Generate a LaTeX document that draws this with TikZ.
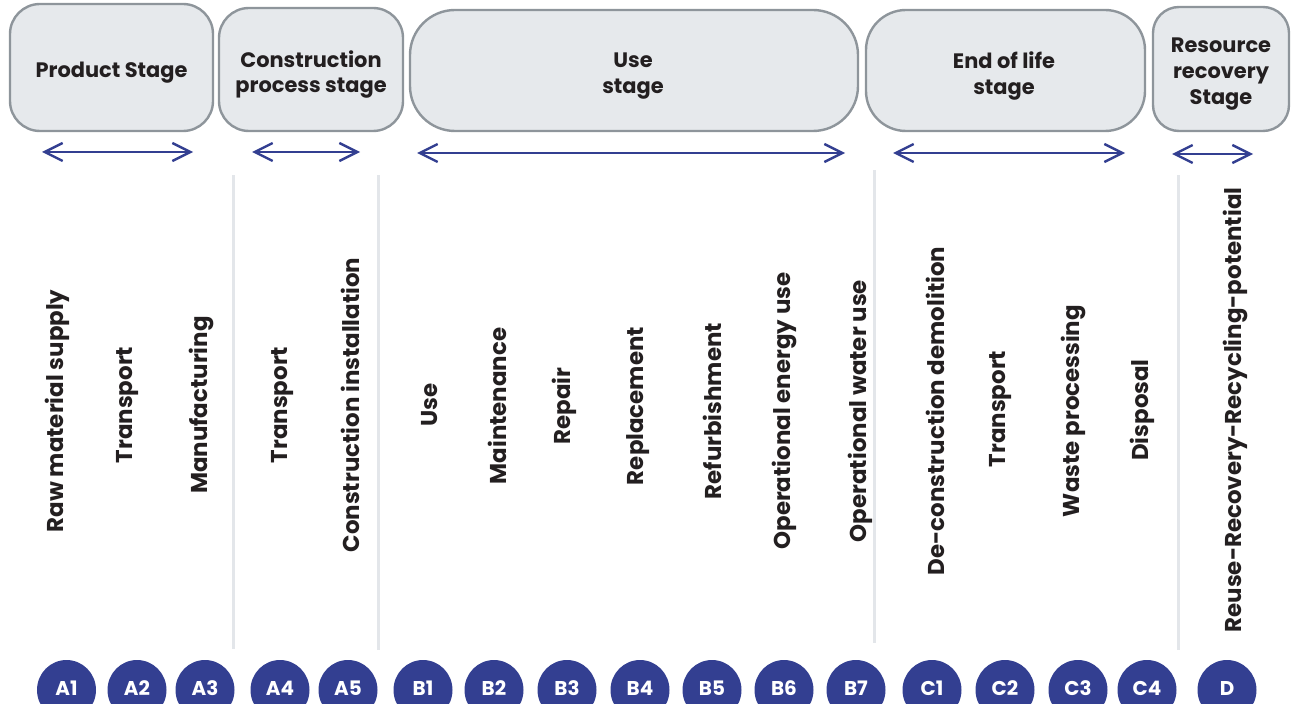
\documentclass[tikz,border=0pt]{standalone}
\usepackage{fontspec}
\setmainfont{Poppins}
\usetikzlibrary{arrows.meta,shapes.geometric}
\definecolor{boxfill}{HTML}{E6E9EC}
\definecolor{boxline}{HTML}{8E959B}
\definecolor{txt}{HTML}{231F20}
\definecolor{navy}{HTML}{333F91}
\definecolor{sep}{HTML}{E3E6EA}
\tikzset{
  stagebox/.style={draw=boxline, line width=2.4bp, fill=boxfill, inner sep=0pt},
  stagetext/.style={align=center, text=txt, font=\fontsize{21}{26}\selectfont\bfseries, inner sep=0pt},
  span/.style={draw=navy, line width=2.6bp, {Straight Barb[length=18bp,width=18bp,line width=2.4bp]}-{Straight Barb[length=18bp,width=18bp,line width=2.4bp]}},
  vlabel/.style={rotate=90, text=txt, font=\fontsize{23}{26}\selectfont\bfseries, inner sep=0pt, anchor=center},
  module/.style={ellipse, fill=navy, text=white, font=\fontsize{20}{22}\selectfont\bfseries,
    minimum width=59bp, minimum height=60bp, inner sep=0pt},
  sepline/.style={draw=sep, line width=3bp}
}
\begin{document}
\begin{tikzpicture}[x=1bp, y=-1bp]
\useasboundingbox (0,0) rectangle (1296,704);
% stage boxes
\node[stagebox, rounded corners=30bp, minimum width=203bp, minimum height=127bp] (ps) at (111.5,67.5) {};
\node[stagebox, rounded corners=30bp, minimum width=184bp, minimum height=123bp] (cs) at (311,69.5) {};
\node[stagebox, rounded corners=45bp, minimum width=448bp, minimum height=121bp] (us) at (634,70.5) {};
\node[stagebox, rounded corners=40bp, minimum width=279bp, minimum height=121bp] (es) at (1005.5,70.5) {};
\node[stagebox, rounded corners=26bp, minimum width=136bp, minimum height=124bp] (rs) at (1221,69) {};
\node[stagetext] (pst) at (111.5,73) {Product Stage};
\node[stagetext] (cst) at (311,74.5) {Construction\\process stage};
\node[stagetext] (ust) at (633,76) {Use\\stage};
\node[stagetext] (est) at (1004,76) {End of life\\stage};
\node[stagetext] (rst) at (1221,74) {Resource\\recovery\\Stage};
% span arrows
\coordinate (psL) at (42,152); \coordinate (psR) at (193,152);
\coordinate (csL) at (252,152); \coordinate (csR) at (360,152);
\coordinate (usL) at (417,153); \coordinate (usR) at (845,153);
\coordinate (esL) at (893,153); \coordinate (esR) at (1125,153);
\coordinate (rsL) at (1172,154); \coordinate (rsR) at (1253,154);
\draw[span] (psL) -- (psR);
\draw[span] (csL) -- (csR);
\draw[span] (usL) -- (usR);
\draw[span] (esL) -- (esR);
\draw[span] (rsL) -- (rsR);
% separators
\draw[sepline] (233,175) -- (233,649);
\draw[sepline] (378,175) -- (378,650);
\draw[sepline] (874,170) -- (874,643);
\draw[sepline] (1178,175) -- (1178,650);
% vertical labels
\node[vlabel] (l1) at (57,411) {Raw material supply};
\node[vlabel] (l2) at (128,405) {Transport};
\node[vlabel] (l3) at (201,405) {Manufacturing};
\node[vlabel] (l4) at (283,405) {Transport};
\node[vlabel] (l5) at (350,405) {Construction installation};
\node[vlabel] (l6) at (430,405) {Use};
\node[vlabel] (l7) at (497,406) {Maintenance};
\node[vlabel] (l8) at (564,406) {Repair};
\node[vlabel] (l9) at (638,406) {Replacement};
\node[vlabel] (l10) at (712,411) {Refurbishment};
\node[vlabel] (l11) at (784,411) {Operational energy use};
\node[vlabel] (l12) at (860,411) {Operational water use};
\node[vlabel] (l13) at (935,411) {De-construction demolition};
\node[vlabel] (l14) at (1000,409) {Transport};
\node[vlabel] (l15) at (1073,411) {Waste processing};
\node[vlabel] (l16) at (1142,410) {Disposal};
\node[vlabel] (l17) at (1235,410) {Reuse-Recovery-Recycling-potential};
% module circles
\foreach \n/\x in {A1/66.5,A2/137,A3/205,A4/280,A5/348,B1/423,B2/494,B3/567,B4/640,B5/712,B6/784,B7/856,C1/932,C2/1005,C3/1078,C4/1147,D/1227}
  \node[module] (m\n) at (\x,690) {\raisebox{3bp}{\n}};
\end{tikzpicture}
\end{document}
